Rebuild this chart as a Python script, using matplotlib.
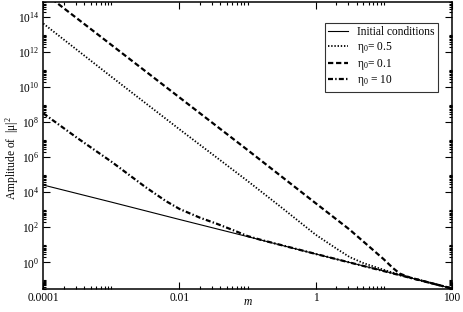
import numpy as np
import matplotlib
matplotlib.use("Agg")
import matplotlib.pyplot as plt
from matplotlib.ticker import FixedLocator, FixedFormatter, LogFormatterSciNotation

plt.rcParams['font.family'] = ['Liberation Serif', 'DejaVu Serif']
plt.rcParams['mathtext.fontset'] = 'custom'
plt.rcParams['mathtext.rm'] = 'Liberation Serif'
plt.rcParams['mathtext.it'] = 'Liberation Serif:italic'
plt.rcParams['lines.scale_dashes'] = False

# data (log10 values)
m_init = [1e-4, 1e-3, 1e-2, 1e-1, 1, 10, 100]
y_init = [2.6e4, 2.75e3, 2.8e2, 29.5, 3.0, 0.32, 0.032]

logm_05 = [-4, -3, -2, -1, -0.5, 0, 0.3, 0.5, 0.7, 0.9, 1.1, 1.3, 2.0]
logy_05 = [13.64, 10.6, 7.6, 4.65, 3.13, 1.58, 0.8, 0.3, -0.04, -0.30, -0.55, -0.77, -1.49]

logm_01 = [-4, -3, -2, -1, 0, 0.5, 1.0, 1.137, 1.24, 1.4, 2.0]
logy_01 = [15.42, 12.42, 9.42, 6.42, 3.38, 1.87, 0.18, -0.33, -0.65, -0.89, -1.49]

logm_10 = [-4, -3.5, -3, -2.5, -2.2, -2, -1.7, -1.45, -1.2, -1.0, -0.8, 0, 1, 2]
logy_10 = [8.51, 7.1, 5.75, 4.3, 3.5, 3.05, 2.55, 2.2, 1.82, 1.5, 1.28, 0.48, -0.50, -1.49]

legend_labels = ['Initial conditions', 'η$_{\\mathit{0}}$= $\\mathit{0.5}$',
                 'η$_{\\mathit{0}}$= $\\mathit{0.1}$', 'η$_{\\mathit{0}}$ = $\\mathit{10}$']

FS = 8.3
fig = plt.figure(figsize=(4.63, 3.12), dpi=100)
ax = fig.add_axes([43.3/463, 1-289/312, (451.7-43.3)/463, (289-1.5)/312])

ax.plot(m_init, y_init, color='black', lw=0.8, label=legend_labels[0])
ax.plot(10**np.array(logm_05), 10**np.array(logy_05), color='black', lw=1.3,
        linestyle=(0, (1.0, 1.3)), label=legend_labels[1])
ax.plot(10**np.array(logm_01), 10**np.array(logy_01), color='black', lw=1.6,
        linestyle=(0, (3.8, 2.0)), label=legend_labels[2])
ax.plot(10**np.array(logm_10), 10**np.array(logy_10), color='black', lw=1.6,
        linestyle=(0, (3.6, 1.6, 1.0, 1.6)), label=legend_labels[3])

ax.set_xscale('log')
ax.set_yscale('log')
ax.set_xlim(1e-4, 100)
ax.set_ylim(10**-1.525, 10**14.9)

xmaj = [1e-4, 1e-2, 1, 100]
ax.xaxis.set_major_locator(FixedLocator(xmaj))
ax.xaxis.set_major_formatter(FixedFormatter(['0.0001', '0.01', '1', '100']))
xmin = [k*10.0**e for e in (-4, -2, 0) for k in range(2, 11)]
ax.xaxis.set_minor_locator(FixedLocator(xmin))

ymaj = [10.0**e for e in range(0, 15, 2)]
ax.yaxis.set_major_locator(FixedLocator(ymaj))
ax.yaxis.set_major_formatter(LogFormatterSciNotation())
ymin = [k*10.0**e for e in range(-2, 15, 2) for k in range(2, 11)]
ax.yaxis.set_minor_locator(FixedLocator(ymin))
ax.yaxis.set_minor_formatter(plt.NullFormatter())
ax.xaxis.set_minor_formatter(plt.NullFormatter())

ax.tick_params(which='both', direction='in', top=True, right=True, labelsize=FS, width=0.8)
ax.tick_params(which='major', length=5)
ax.tick_params(which='minor', length=2.5)
ax.tick_params(axis='x', pad=2)
ax.tick_params(axis='y', pad=3)
for s in ax.spines.values():
    s.set_linewidth(1.1)

fig.text(248/463, 1-302/312, 'm', style='italic', fontsize=FS, ha='center', va='center')
fig.text(12/463, 1-158/312, 'Amplitude of  |μ|$^2$', fontsize=FS, rotation=90,
         ha='center', va='center')

leg = ax.legend(loc='upper right', bbox_to_anchor=(438/463, 1-22.7/312), bbox_transform=fig.transFigure,
                fontsize=FS, frameon=True, fancybox=False, handlelength=1.7, handletextpad=0.8,
                labelspacing=0.15, borderpad=0.3, borderaxespad=0)
leg.get_frame().set_edgecolor('black')
leg.get_frame().set_linewidth(0.8)

fig.savefig('out.png', dpi=100)
